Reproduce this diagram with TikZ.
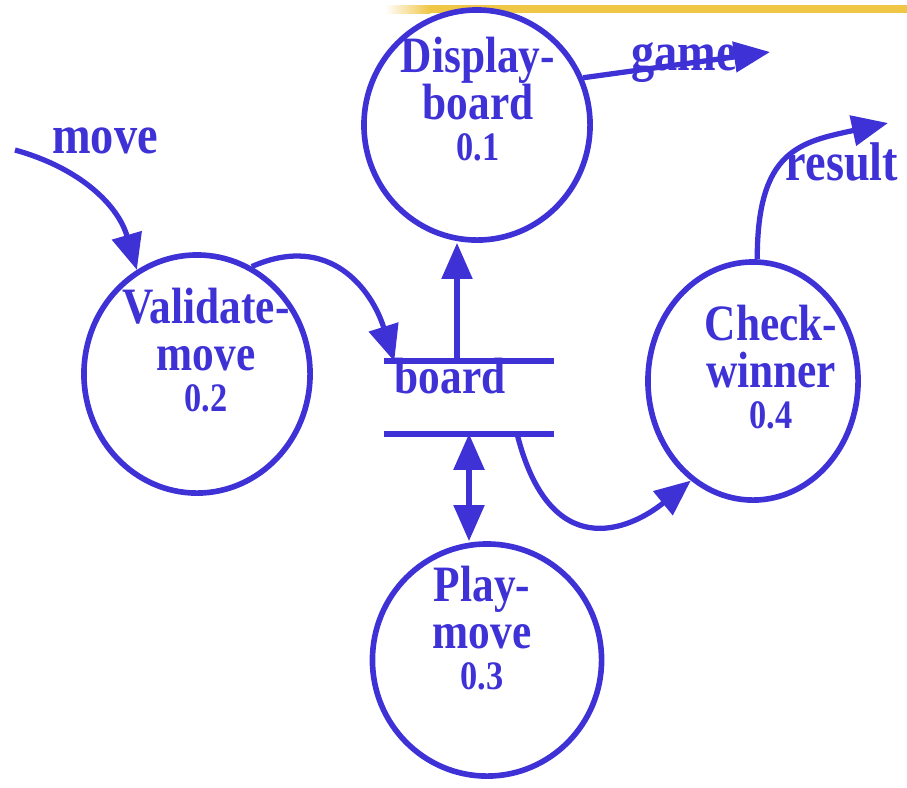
\documentclass[tikz,border=0pt]{standalone}
\usepackage{fontspec}
\setmainfont{Liberation Serif}[FakeStretch=0.85]
\usetikzlibrary{arrows.meta,shapes.geometric}

\definecolor{dfdblue}{RGB}{62,50,215}
\definecolor{stripyellow}{RGB}{240,198,70}

\tikzset{
  process/.style={ellipse,draw=dfdblue,line width=1.6pt,inner sep=0pt},
  proctext/.style={text=dfdblue,align=center,inner sep=0pt,
    font=\bfseries\fontsize{14.5}{13.5}\selectfont},
  flowtext/.style={text=dfdblue,inner sep=0pt,anchor=base,
    font=\bfseries\fontsize{15.5}{16}\selectfont},
  flow/.style={draw=dfdblue,line width=1.5pt,-{Triangle[length=0.36cm,width=0.3cm]}},
  bothflow/.style={flow,{Triangle[length=0.36cm,width=0.3cm]}-{Triangle[length=0.36cm,width=0.3cm]}},
  storeline/.style={draw=dfdblue,line width=1.6pt},
}
\newcommand{\procnum}[1]{{\fontsize{11.5}{11.5}\selectfont #1}}

\begin{document}
\begin{tikzpicture}[x=0.01cm,y=-0.01cm]

\useasboundingbox (0,0) rectangle (907,787);

% Yellow band at the top
\shade[left color=white,right color=stripyellow] (385,5) rectangle (430,13);
\fill[stripyellow] (430,5) rectangle (907,13);

% Processes
\node[process,minimum width=2.26cm,minimum height=2.3cm] (disp) at (477,125) {}; % Display-board
\node[process,minimum width=2.26cm,minimum height=2.38cm] (valid) at (197,374) {}; % Validate-move
\node[process,minimum width=2.29cm,minimum height=2.32cm] (play) at (487,660) {}; % Play-move
\node[process,minimum width=2.1cm,minimum height=2.38cm] (check) at (753,381) {}; % Check-winner

\node[proctext] (disp-t) at (478,99) {Display-\\board\\[-2pt]\procnum{0.1}};
\node[proctext] (valid-t) at (206,350) {Validate-\\move\\[-2pt]\procnum{0.2}};
\node[proctext] (play-t) at (482,628) {Play-\\move\\[-2pt]\procnum{0.3}};
\node[proctext] (check-t) at (771,367) {Check-\\winner\\[-2pt]\procnum{0.4}};

% Data store
\node[inner sep=0pt,minimum width=1.68cm,minimum height=0.71cm] (store) at (469,397.5) {};
\draw[storeline] (store.north west) -- (store.north east);
\draw[storeline] (store.south west) -- (store.south east);
\node[flowtext,font=\bfseries\fontsize{14.5}{14}\selectfont] (store-t) at (450,393) {board};

% Outside ends of the flows
\coordinate (movein) at (15,150);
\coordinate (gameout) at (770,52);
\coordinate (resultout) at (888,123);

% Flows
\draw[flow] (movein) .. controls (80,168) and (118,205) .. (valid.120);
\node[flowtext] (move-t) at (105,153) {move};

\draw[flow] (disp.24) -- (gameout);
\node[flowtext] (game-t) at (684,70) {game};

\draw[flow] (check.88) .. controls (757,150) and (800,142) .. (resultout);
\node[flowtext] (result-t) at (842,180) {result};

\draw[flow] (valid.63) .. controls (330,232) and (372,290) .. ([xshift=0.1cm]store.north west);

\draw[flow] ([xshift=-0.12cm]store.north) -- ([xshift=-0.12cm]store.north |- disp.south);

\draw[bothflow] (store.south) -- (store.south |- play.north);

\draw[flow] ([xshift=0.48cm]store.south) .. controls (550,565) and (630,530) .. (check.238);

\end{tikzpicture}
\end{document}
